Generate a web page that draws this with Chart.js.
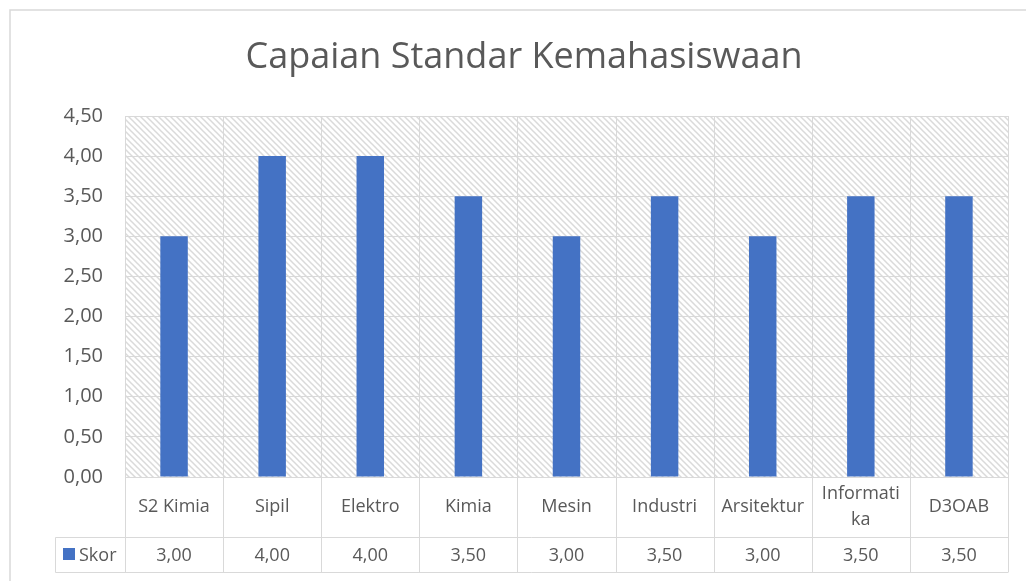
<!DOCTYPE html>
<html>
<head>
<meta charset="utf-8">
<script src="https://cdn.jsdelivr.net/npm/chart.js@4/dist/chart.umd.min.js"></script>
<style>
  html, body { margin: 0; padding: 0; background: #fff; }
  canvas { display: block; }
</style>
</head>
<body>
<canvas id="chart" width="1026" height="581"></canvas>
<script>
const chartTitle = 'Capaian Standar Kemahasiswaan';
const categories = ['S2 Kimia', 'Sipil', 'Elektro', 'Kimia', 'Mesin', 'Industri', 'Arsitektur', 'Informatika', 'D3OAB'];
const categoryLines = ['S2 Kimia', 'Sipil', 'Elektro', 'Kimia', 'Mesin', 'Industri', 'Arsitektur', 'Informati\nka', 'D3OAB'];
const seriesName = 'Skor';
const skor = [3.00, 4.00, 4.00, 3.50, 3.00, 3.50, 3.00, 3.50, 3.50];
const yMax = 4.5;
const yStep = 0.5;

const textColor = '#595959';
const gridColor = '#d9d9d9';
const barColor = '#4472C4';
const fontFamily = '"Open Sans", "Noto Sans", sans-serif';

const fmt = (v) => v.toFixed(2).replace('.', ',');

function makeHatch(ctx) {
  const tile = document.createElement('canvas');
  tile.width = 6;
  tile.height = 6;
  const t = tile.getContext('2d');
  t.fillStyle = '#ffffff';
  t.fillRect(0, 0, 6, 6);
  t.strokeStyle = '#dadada';
  t.lineWidth = 1.5;
  t.beginPath();
  t.moveTo(-1, -1); t.lineTo(7, 7);
  t.moveTo(5, -1); t.lineTo(7, 1);
  t.moveTo(-1, 5); t.lineTo(1, 7);
  t.stroke();
  return ctx.createPattern(tile, 'repeat');
}

// frame, hatched plot background and vertical category lines
const backgroundPlugin = {
  id: 'background',
  beforeDraw(chart) {
    const { ctx, chartArea: a } = chart;
    ctx.save();
    ctx.fillStyle = '#fff';
    ctx.fillRect(0, 0, chart.width, chart.height);
    ctx.strokeStyle = gridColor;
    ctx.lineWidth = 1.5;
    ctx.strokeRect(10, 10, chart.width + 20, chart.height + 20);
    ctx.fillStyle = makeHatch(ctx);
    ctx.fillRect(a.left, a.top, a.right - a.left, a.bottom - a.top);
    ctx.restore();
  },
  beforeDatasetsDraw(chart) {
    const { ctx, chartArea: a } = chart;
    const cw = (a.right - a.left) / categories.length;
    ctx.save();
    ctx.strokeStyle = gridColor;
    ctx.lineWidth = 1;
    for (let i = 0; i <= categories.length; i++) {
      const px = Math.round(a.left + i * cw) + 0.5;
      ctx.beginPath();
      ctx.moveTo(px, a.top);
      ctx.lineTo(px, a.bottom);
      ctx.stroke();
    }
    ctx.restore();
  }
};

// title and data table under the plot
const tablePlugin = {
  id: 'dataTable',
  afterDraw(chart) {
    const { ctx, chartArea: a, scales: { x } } = chart;
    const cw = (a.right - a.left) / categories.length;
    const rowTop = a.bottom;
    const rowMid = 537.5;
    const rowBottom = 572.5;
    const legendLeft = 55.5;

    ctx.save();
    ctx.fillStyle = textColor;
    ctx.textAlign = 'center';
    ctx.textBaseline = 'middle';
    ctx.font = '36px ' + fontFamily;
    ctx.fillText(chartTitle, 524, 58);

    ctx.strokeStyle = gridColor;
    ctx.lineWidth = 1;
    ctx.beginPath();
    ctx.moveTo(a.left, rowTop + 0.5); ctx.lineTo(a.right, rowTop + 0.5);
    ctx.moveTo(legendLeft, rowMid); ctx.lineTo(a.right, rowMid);
    ctx.moveTo(legendLeft, rowBottom); ctx.lineTo(a.right, rowBottom);
    ctx.moveTo(legendLeft, rowMid); ctx.lineTo(legendLeft, rowBottom);
    for (let i = 0; i <= categories.length; i++) {
      const px = Math.round(a.left + i * cw) + 0.5;
      ctx.moveTo(px, rowTop);
      ctx.lineTo(px, rowBottom);
    }
    ctx.stroke();

    ctx.font = '18px ' + fontFamily;
    ctx.fillStyle = textColor;
    categories.forEach((c, i) => {
      const cx = x.getPixelForValue(i);
      const lines = categoryLines[i].split('\n');
      const lh = 26;
      const y0 = (rowTop + rowMid) / 2 - (lines.length - 1) * lh / 2;
      lines.forEach((ln, j) => ctx.fillText(ln, cx, y0 + j * lh));
      ctx.fillText(fmt(skor[i]), cx, (rowMid + rowBottom) / 2 + 1);
    });

    ctx.fillStyle = barColor;
    ctx.fillRect(63, 548, 12, 12);
    ctx.fillStyle = textColor;
    ctx.textAlign = 'left';
    ctx.fillText(seriesName, 79, (rowMid + rowBottom) / 2 + 1);
    ctx.restore();
  }
};

const ctx = document.getElementById('chart').getContext('2d');
new Chart(ctx, {
  type: 'bar',
  data: {
    labels: categories,
    datasets: [{
      label: seriesName,
      data: skor,
      backgroundColor: barColor,
      borderWidth: 0,
      barPercentage: 0.28,
      categoryPercentage: 1
    }]
  },
  options: {
    responsive: false,
    animation: false,
    devicePixelRatio: 1,
    layout: {
      padding: { left: 10, top: 116, right: 18, bottom: 104 }
    },
    plugins: {
      legend: { display: false },
      title: { display: false },
      tooltip: { enabled: false }
    },
    scales: {
      x: {
        display: false,
        offset: true
      },
      y: {
        min: 0,
        max: yMax,
        afterFit(axis) { axis.width = 115; },
        ticks: {
          stepSize: yStep,
          color: textColor,
          padding: 22,
          font: { family: fontFamily, size: 20 },
          callback: (v) => fmt(v)
        },
        grid: {
          color: gridColor,
          lineWidth: 1,
          drawTicks: false
        },
        border: { color: gridColor }
      }
    }
  },
  plugins: [backgroundPlugin, tablePlugin]
});
</script>
</body>
</html>
